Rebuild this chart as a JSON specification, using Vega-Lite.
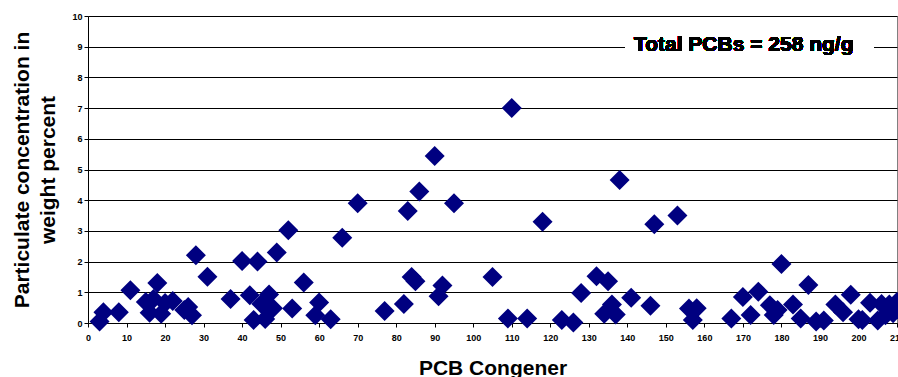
{
  "$schema": "https://vega.github.io/schema/vega-lite/v6.json",
  "width": 809,
  "height": 307,
  "autosize": {"type": "none"},
  "padding": {"left": 88, "top": 16, "right": 1, "bottom": 54},
  "background": "white",
  "config": {
    "font": "Liberation Sans",
    "view": {"stroke": "#808080", "strokeWidth": 1},
    "axis": {
      "labelFont": "Liberation Sans",
      "labelFontWeight": "bold",
      "labelFontSize": 9,
      "labelColor": "#000",
      "titleFont": "Liberation Sans",
      "titleFontWeight": "bold",
      "titleFontSize": 21,
      "titleColor": "#000",
      "domainColor": "#000",
      "domainWidth": 1,
      "tickColor": "#000",
      "tickSize": 4,
      "gridColor": "#000",
      "gridWidth": 1
    }
  },
  "data": {
    "values": [
      {"congener": 3, "pct": 0.05},
      {"congener": 4, "pct": 0.35},
      {"congener": 8, "pct": 0.35},
      {"congener": 11, "pct": 1.07},
      {"congener": 15, "pct": 0.68},
      {"congener": 16, "pct": 0.33},
      {"congener": 17, "pct": 0.78},
      {"congener": 18, "pct": 1.3},
      {"congener": 19, "pct": 0.3},
      {"congener": 20, "pct": 0.65},
      {"congener": 22, "pct": 0.72},
      {"congener": 25, "pct": 0.42},
      {"congener": 26, "pct": 0.52},
      {"congener": 27, "pct": 0.25},
      {"congener": 28, "pct": 2.21},
      {"congener": 31, "pct": 1.51},
      {"congener": 37, "pct": 0.78},
      {"congener": 40, "pct": 2.02},
      {"congener": 42, "pct": 0.9},
      {"congener": 43, "pct": 0.1},
      {"congener": 44, "pct": 2.0},
      {"congener": 45, "pct": 0.62},
      {"congener": 46, "pct": 0.13},
      {"congener": 47, "pct": 0.93},
      {"congener": 48, "pct": 0.48},
      {"congener": 49, "pct": 2.3},
      {"congener": 52, "pct": 3.02},
      {"congener": 53, "pct": 0.47},
      {"congener": 56, "pct": 1.32},
      {"congener": 59, "pct": 0.25},
      {"congener": 60, "pct": 0.67},
      {"congener": 63, "pct": 0.12},
      {"congener": 66, "pct": 2.78},
      {"congener": 70, "pct": 3.9},
      {"congener": 77, "pct": 0.39},
      {"congener": 82, "pct": 0.62},
      {"congener": 83, "pct": 3.65},
      {"congener": 84, "pct": 1.5},
      {"congener": 85, "pct": 1.36},
      {"congener": 86, "pct": 4.28},
      {"congener": 90, "pct": 5.44},
      {"congener": 91, "pct": 0.87},
      {"congener": 92, "pct": 1.22},
      {"congener": 95, "pct": 3.9},
      {"congener": 105, "pct": 1.5},
      {"congener": 109, "pct": 0.15},
      {"congener": 110, "pct": 7.0},
      {"congener": 114, "pct": 0.15},
      {"congener": 118, "pct": 3.3},
      {"congener": 123, "pct": 0.1},
      {"congener": 126, "pct": 0.02},
      {"congener": 128, "pct": 0.98},
      {"congener": 132, "pct": 1.52},
      {"congener": 134, "pct": 0.3},
      {"congener": 135, "pct": 1.36},
      {"congener": 136, "pct": 0.6},
      {"congener": 137, "pct": 0.28},
      {"congener": 138, "pct": 4.66},
      {"congener": 141, "pct": 0.82},
      {"congener": 146, "pct": 0.56},
      {"congener": 147, "pct": 3.22},
      {"congener": 153, "pct": 3.5},
      {"congener": 156, "pct": 0.47},
      {"congener": 157, "pct": 0.1},
      {"congener": 158, "pct": 0.48},
      {"congener": 167, "pct": 0.15},
      {"congener": 170, "pct": 0.85},
      {"congener": 172, "pct": 0.26},
      {"congener": 174, "pct": 1.02},
      {"congener": 177, "pct": 0.58},
      {"congener": 178, "pct": 0.26},
      {"congener": 179, "pct": 0.42},
      {"congener": 180, "pct": 1.92},
      {"congener": 183, "pct": 0.6},
      {"congener": 185, "pct": 0.15},
      {"congener": 187, "pct": 1.24},
      {"congener": 189, "pct": 0.05},
      {"congener": 191, "pct": 0.08},
      {"congener": 194, "pct": 0.6},
      {"congener": 196, "pct": 0.35},
      {"congener": 198, "pct": 0.92},
      {"congener": 200, "pct": 0.12},
      {"congener": 201, "pct": 0.1},
      {"congener": 203, "pct": 0.66},
      {"congener": 205, "pct": 0.08},
      {"congener": 206, "pct": 0.62},
      {"congener": 207, "pct": 0.25},
      {"congener": 208, "pct": 0.6},
      {"congener": 209, "pct": 0.32},
      {"congener": 210, "pct": 0.68}
    ]
  },
  "layer": [
    {
      "mark": {"type": "point", "shape": "diamond", "filled": true, "color": "#000080", "opacity": 1, "size": 400, "strokeWidth": 0},
      "encoding": {
        "x": {
          "field": "congener",
          "type": "quantitative",
          "scale": {"domain": [0, 210], "nice": false, "zero": false},
          "axis": {
            "title": "PCB Congener",
            "values": [0, 10, 20, 30, 40, 50, 60, 70, 80, 90, 100, 110, 120, 130, 140, 150, 160, 170, 180, 190, 200, 210],
            "tickCount": 40,
            "format": "d",
            "grid": false,
            "labelPadding": 6,
            "labelFlush": false,
            "labelOverlap": false,
            "titleX": 404.5,
            "titleY": 51,
            "titleAlign": "center",
            "titleBaseline": "alphabetic",
            "titleAnchor": null
          }
        },
        "y": {
          "field": "pct",
          "type": "quantitative",
          "scale": {"domain": [0, 10], "nice": false},
          "axis": {
            "title": ["Particulate concentration in", "weight percent"],
            "values": [0, 1, 2, 3, 4, 5, 6, 7, 8, 9, 10],
            "tickCount": 20,
            "format": "d",
            "grid": true,
            "labelPadding": 2,
            "labelFlush": false,
            "labelOverlap": false,
            "titleAngle": -90,
            "titleX": -60,
            "titleY": 153.5,
            "titleAlign": "center",
            "titleBaseline": "alphabetic",
            "titleLineHeight": 26
          }
        }
      }
    },
    {
      "mark": {"type": "rect", "fill": "white", "stroke": null},
      "encoding": {
        "x": {"datum": 139.4, "type": "quantitative"},
        "x2": {"datum": 204},
        "y": {"datum": 8.7, "type": "quantitative"},
        "y2": {"datum": 9.3}
      }
    },
    {
      "mark": {"type": "text", "text": "Total PCBs = 258 ng/g", "font": "Liberation Sans", "fontWeight": "bold", "fontSize": 21, "fill": "#000", "align": "center", "baseline": "alphabetic", "dy": 4},
      "encoding": {
        "x": {"datum": 170.2, "type": "quantitative"},
        "y": {"datum": 9, "type": "quantitative"}
      }
    }
  ]
}
